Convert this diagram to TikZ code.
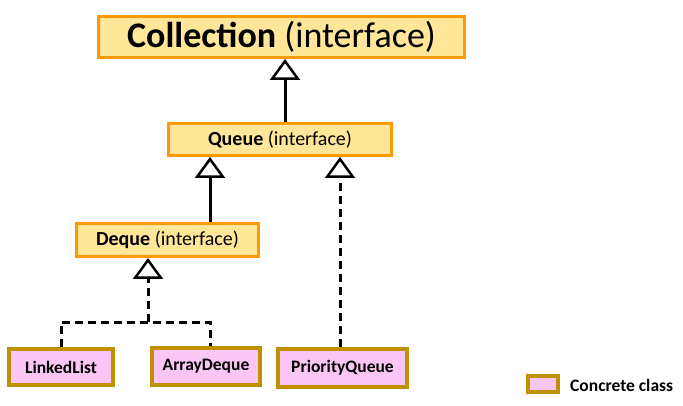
\documentclass[tikz,border=0pt]{standalone}
\usepackage{fontspec}
\setmainfont{Carlito}
\usetikzlibrary{arrows.meta}
\definecolor{ifill}{HTML}{FFE699}
\definecolor{iborder}{HTML}{FF9900}
\definecolor{cfill}{HTML}{F9C6F5}
\definecolor{cborder}{HTML}{BF9000}
\tikzset{
  iface/.style={draw=iborder, fill=ifill, line width=3pt, inner sep=0pt, font=\fontsize{20}{24}\selectfont},
  concrete/.style={draw=cborder, fill=cfill, line width=4pt, inner sep=0pt, font=\fontsize{17.5}{21}\selectfont\bfseries},
  inherit/.style={line width=3pt, -{Triangle[open, width=30pt, length=21pt, line width=2.5pt]}},
  dashline/.style={line width=3pt, dash pattern=on 8pt off 5pt},
}
\begin{document}
\begin{tikzpicture}[x=1pt,y=-1pt]
\useasboundingbox (0,0) rectangle (683,406);
\node[iface, minimum width=366pt, minimum height=41pt, font=\fontsize{36}{40}\selectfont] (Collection) at (281.5,37) {\textbf{Collection} (interface)};
\node[iface, minimum width=223pt, minimum height=32pt] (Queue) at (280,139.5) {\textbf{Queue} (interface)};
\node[iface, minimum width=182pt, minimum height=33pt] (Deque) at (167.5,240) {\textbf{Deque} (interface)};
\node[concrete, minimum width=104pt, minimum height=36pt] (LinkedList) at (61,367) {LinkedList};
\node[concrete, minimum width=108pt, minimum height=37pt] (ArrayDeque) at (206,366.5) {ArrayDeque};
\node[concrete, minimum width=129pt, minimum height=38pt] (PriorityQueue) at (342.5,368) {PriorityQueue};
\node[draw=cborder, fill=cfill, line width=4pt, minimum width=30pt, minimum height=16pt, inner sep=0pt] (legend) at (543,383.5) {};
\node[anchor=west, inner sep=0pt, font=\fontsize{17.5}{21}\selectfont\bfseries] (legendtext) at (570,385) {Concrete class};
\coordinate (xc) at (285,0);
\coordinate (xq) at (210,0);
\coordinate (xp) at (340,0);
\coordinate (j) at (148,322);
\draw[inherit] (Queue.north -| xc) -- (Collection.south -| xc);
\draw[inherit] (Deque.north -| xq) -- (Queue.south -| xq);
\draw[inherit, dash pattern=on 8pt off 5pt] (PriorityQueue.north -| xp) -- (Queue.south -| xp);
\draw[dashline] (LinkedList.north) |- (xq |- j) -- (ArrayDeque.north -| xq);
\draw[inherit, dash pattern=on 8pt off 5pt] (j) -- (Deque.south -| j);
\end{tikzpicture}
\end{document}
